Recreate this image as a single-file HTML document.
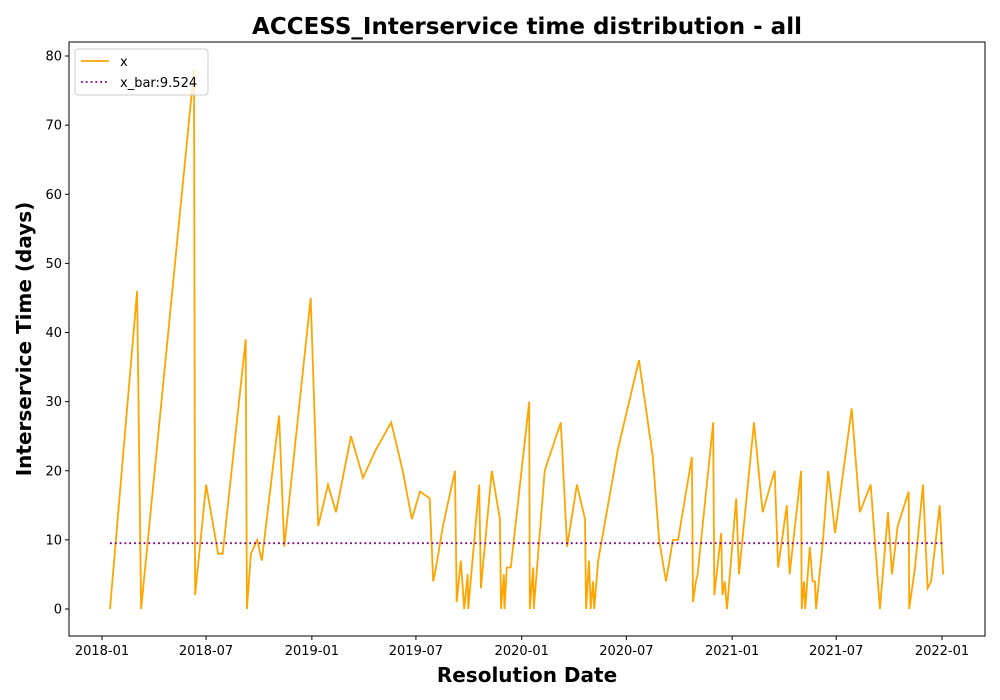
<!DOCTYPE html>
<html><head><meta charset="utf-8"><style>
body{margin:0;background:#fff;}
svg{display:block;font-family:"DejaVu Sans","Liberation Sans",sans-serif;}
</style></head><body>
<svg id="c" width="1000" height="700"></svg>
<script>
const days=[14,61,68,160,162,181,202,210,250,252,259,270,278,308,317,363,376,393,407,433,454,476,503,523,539,553,570,576,581,593,614,617,624,630,636,637,656,659,678,692,694,699,700,704,711,743,744,750,751,770,798,809,826,840,842,847,850,854,856,863,897,934,958,969,981,993,1002,1026,1028,1033,1036,1063,1065,1077,1079,1083,1087,1103,1108,1134,1149,1170,1176,1191,1196,1216,1217,1221,1223,1231,1236,1240,1242,1254,1263,1275,1304,1318,1337,1353,1367,1374,1384,1403,1404,1414,1428,1436,1442,1457,1463];
const values=[0,46,0,78,2,18,8,8,39,0,8,10,7,28,9,45,12,18,14,25,19,23,27,20,13,17,16,4,6,12,20,1,7,0,5,0,18,3,20,13,0,5,0,6,6,30,0,6,0,20,27,9,18,13,0,7,0,4,0,7,23,36,22,10,4,10,10,22,1,4,5,27,2,11,2,4,0,16,5,27,14,20,6,15,5,20,0,4,0,9,4,4,0,10,20,11,29,14,18,0,14,5,12,17,0,6,18,3,4,15,5];
const xbar=9.524;
const yTicks=[0,10,20,30,40,50,60,70,80];
const xTickLabels=["2018-01","2018-07","2019-01","2019-07","2020-01","2020-07","2021-01","2021-07","2022-01"];
const xTickDays=[0,181,365,546,730,912,1096,1277,1461];

const NS="http://www.w3.org/2000/svg";
const svg=document.getElementById('c');
const L=69,T=42,R=985,B=636;
const X=d=>102+d*(840/1461);
const Y=v=>609-v*6.9125;
function el(t,a,p){const e=document.createElementNS(NS,t);for(const k in a)e.setAttribute(k,a[k]);(p||svg).appendChild(e);return e;}

let t=el('text',{x:527,y:34,'text-anchor':'middle','font-size':23,'font-weight':'bold'});t.textContent='ACCESS_Interservice time distribution - all';



yTicks.forEach(v=>{
  el('line',{x1:L-4,x2:L,y1:Y(v),y2:Y(v),stroke:'#000'});
  const s=el('text',{x:L-7,y:Y(v)+4.5,'text-anchor':'end','font-size':13});s.textContent=v;
  
  
});
xTickDays.forEach((d,i)=>{
  el('line',{x1:X(d),x2:X(d),y1:B,y2:B+4,stroke:'#000'});
  const s=el('text',{x:X(d),y:B+19,'text-anchor':'middle','font-size':13});s.textContent=xTickLabels[i];
  
  
});
t=el('text',{x:527,y:682,'text-anchor':'middle','font-size':20,'font-weight':'bold'});t.textContent='Resolution Date';


t=el('text',{x:0,y:0,'text-anchor':'middle','font-size':20,'font-weight':'bold',transform:'translate(31,339) rotate(-90)'});t.textContent='Interservice Time (days)';



const pts=days.map((d,i)=>X(d).toFixed(1)+','+Y(values[i]).toFixed(1)).join(' ');
const ln=el('polyline',{points:pts,fill:'none',stroke:'#ffa500','stroke-width':1.8,'stroke-linejoin':'miter'});


const mb=el('line',{x1:X(days[0]),x2:X(days[days.length-1]),y1:Y(xbar),y2:Y(xbar),stroke:'#800080','stroke-width':1.8,'stroke-dasharray':'1.8,3'});



el('rect',{x:L,y:T,width:R-L,height:B-T,fill:'none',stroke:'#000','stroke-width':1});

const lg=el('g',{});


el('rect',{x:75,y:49,width:133,height:46,rx:3,fill:'#fff','fill-opacity':0.8,stroke:'#ccc'},lg);
el('line',{x1:81,x2:109,y1:61,y2:61,stroke:'#ffa500','stroke-width':1.8},lg);
let s=el('text',{x:120,y:66,'font-size':13},lg);s.textContent='x';
el('line',{x1:81,x2:109,y1:82,y2:82,stroke:'#800080','stroke-width':1.8,'stroke-dasharray':'1.8,3'},lg);
s=el('text',{x:120,y:87,'font-size':13},lg);s.textContent='x_bar:9.524';
</script>
</body></html>
